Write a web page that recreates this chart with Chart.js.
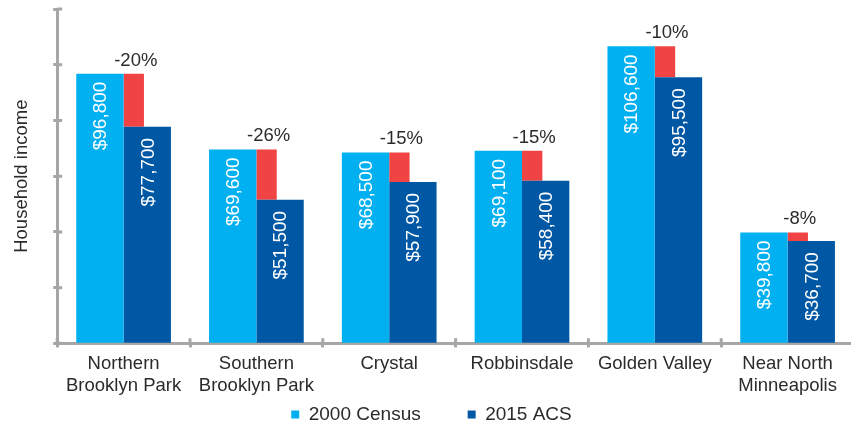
<!DOCTYPE html>
<html>
<head>
<meta charset="utf-8">
<script src="https://cdn.jsdelivr.net/npm/chart.js@4.4.0/dist/chart.umd.min.js"></script>
<style>
  html, body { margin: 0; padding: 0; background: #fff; overflow: hidden; }
  #wrap { width: 858px; height: 434px; }
</style>
</head>
<body>
<div id="wrap"><canvas id="incomeChart" width="858" height="434"></canvas></div>
<script>
// data
const categories = [
    ['Northern', 'Brooklyn Park'],
    ['Southern', 'Brooklyn Park'],
    'Crystal',
    'Robbinsdale',
    'Golden Valley',
    ['Near North', 'Minneapolis']
];
const census2000 = [96800, 69600, 68500, 69100, 106600, 39800];
const acs2015 = [77700, 51500, 57900, 58400, 95500, 36700];
const changeLabels = ['-20%', '-26%', '-15%', '-15%', '-10%', '-8%'];
const yMin = 0;
const yMax = 120000;
const yStep = 20000;

const FONT = '"Liberation Sans", Arial, sans-serif';
const AXIS_GREY = '#A6A6A6';
const TEXT = '#2b2b2b';

// red "drop" segment: from 2015 value up to 2000 value
const dropData = census2000.map((v, i) => [acs2015[i], v]);

function money(v) {
    return '$' + v.toLocaleString('en-US');
}

// red bar sits at the left part of the 2015 bar, narrower
const dropBarPlugin = {
    id: 'dropBar',
    beforeDatasetsDraw(chart) {
        const dark = chart.getDatasetMeta(1).data;
        const red = chart.getDatasetMeta(2).data;
        red.forEach((el, i) => {
            const d = dark[i];
            const w = d.width * 0.43;
            el.x = d.x - d.width / 2 + w / 2;
            el.width = w;
        });
    }
};

const labelPlugin = {
    id: 'barLabels',
    afterDatasetsDraw(chart) {
        const ctx = chart.ctx;
        ctx.save();
        ctx.font = '19px ' + FONT;
        ctx.fillStyle = '#ffffff';
        ctx.textAlign = 'right';
        ctx.textBaseline = 'middle';
        [0, 1].forEach(di => {
            const values = di === 0 ? census2000 : acs2015;
            const pad = di === 0 ? 8 : 11;
            chart.getDatasetMeta(di).data.forEach((el, i) => {
                ctx.save();
                ctx.translate(el.x, el.y + pad);
                ctx.rotate(-Math.PI / 2);
                ctx.fillText(money(values[i]), 0, 1);
                ctx.restore();
            });
        });
        // percentage change above the red segment
        ctx.font = '18.5px ' + FONT;
        ctx.fillStyle = TEXT;
        ctx.textAlign = 'center';
        ctx.textBaseline = 'alphabetic';
        chart.getDatasetMeta(2).data.forEach((el, i) => {
            ctx.fillText(changeLabels[i], el.x + 2, el.y - 8);
        });
        ctx.restore();
    }
};

// tick marks crossing the axis lines
const crossTicksPlugin = {
    id: 'crossTicks',
    afterDraw(chart) {
        const ctx = chart.ctx;
        const area = chart.chartArea;
        const y = chart.scales.y;
        const n = categories.length;
        ctx.save();
        ctx.strokeStyle = AXIS_GREY;
        ctx.lineWidth = 3;
        ctx.beginPath();
        y.ticks.forEach((t, i) => {
            const py = y.getPixelForTick(i);
            ctx.moveTo(area.left, py);
            ctx.lineTo(area.left + 5, py);
        });
        for (let i = 0; i <= n; i++) {
            const px = area.left + (area.right - area.left) * i / n;
            ctx.moveTo(px, area.bottom);
            ctx.lineTo(px, area.bottom - 5);
        }
        ctx.stroke();
        ctx.restore();
    }
};

const ctx = document.getElementById('incomeChart').getContext('2d');
const chart = new Chart(ctx, {
    type: 'bar',
    data: {
        labels: categories,
        datasets: [
            {
                label: '2000 Census',
                data: census2000,
                backgroundColor: '#00B0F0',
                borderWidth: 0,
                stack: 'a'
            },
            {
                label: '2015 ACS',
                data: acs2015,
                backgroundColor: '#0058A5',
                borderWidth: 0,
                stack: 'b'
            },
            {
                label: 'Change',
                data: dropData,
                backgroundColor: '#F04444',
                borderWidth: 0,
                stack: 'b'
            }
        ]
    },
    options: {
        responsive: false,
        animation: false,
        events: [],
        categoryPercentage: 0.713,
        barPercentage: 1,
        layout: {
            padding: { left: 9, top: 9, right: 4, bottom: 0 }
        },
        scales: {
            x: {
                grid: {
                    display: true,
                    drawOnChartArea: false,
                    drawTicks: true,
                    tickLength: 4,
                    tickWidth: 3,
                    tickColor: AXIS_GREY,
                    offset: true
                },
                border: { color: AXIS_GREY, width: 3 },
                ticks: {
                    color: TEXT,
                    padding: 5,
                    maxRotation: 0,
                    autoSkip: false,
                    font: { family: FONT, size: 18.5, lineHeight: 1.22 }
                },
                afterFit(scale) {
                    scale.height -= 7.5;
                }
            },
            y: {
                stacked: false,
                min: yMin,
                max: yMax,
                grid: {
                    display: true,
                    drawOnChartArea: false,
                    drawTicks: true,
                    tickLength: 4,
                    tickWidth: 3,
                    tickColor: AXIS_GREY
                },
                border: { color: AXIS_GREY, width: 3 },
                ticks: { display: false, stepSize: yStep },
                title: {
                    display: true,
                    text: 'Household income',
                    color: TEXT,
                    padding: { top: 2, bottom: 20 },
                    font: { family: FONT, size: 18.5, lineHeight: 1.2 }
                }
            }
        },
        plugins: {
            tooltip: { enabled: false },
            legend: {
                position: 'bottom',
                labels: {
                    color: TEXT,
                    boxWidth: 8,
                    boxHeight: 8,
                    padding: 10,
                    font: { family: FONT, size: 19 },
                    filter: item => item.datasetIndex < 2,
                    generateLabels(chart) {
                        const items = Chart.defaults.plugins.legend.labels.generateLabels(chart);
                        items[0].text = items[0].text + '       ';
                        return items;
                    }
                }
            }
        }
    },
    plugins: [dropBarPlugin, labelPlugin, crossTicksPlugin]
});
</script>
</body>
</html>
